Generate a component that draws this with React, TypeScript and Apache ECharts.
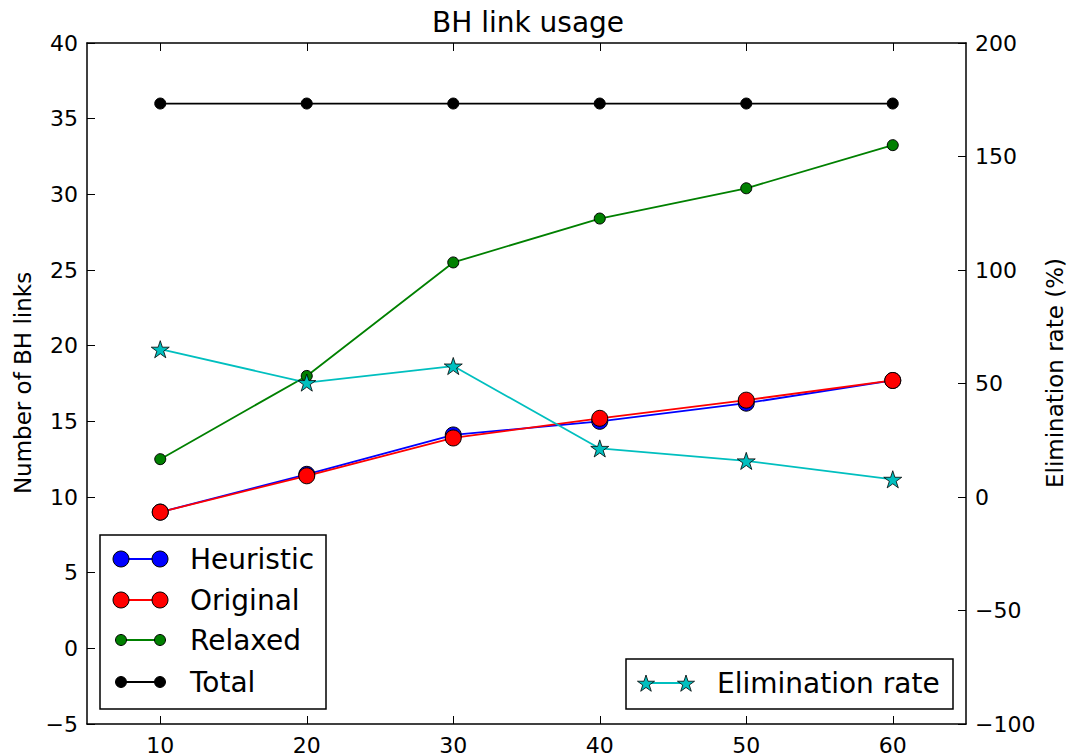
import React, { useEffect, useRef } from "react";
import * as echarts from "echarts";

const xValues = [10, 20, 30, 40, 50, 60];
const heuristic = [9.0, 11.5, 14.1, 15.0, 16.2, 17.7];
const original = [9.0, 11.4, 13.9, 15.2, 16.4, 17.7];
const relaxed = [12.5, 18.0, 25.5, 28.4, 30.4, 33.25];
const total = [36, 36, 36, 36, 36, 36];
const elimination = [65.1, 50.4, 57.7, 21.4, 15.9, 7.8];

const FONT = "DejaVu Sans";

function starPoints(cx: number, cy: number, r: number): number[][] {
  const pts: number[][] = [];
  const inner = r * 0.381966;
  for (let i = 0; i < 10; i++) {
    const a = -Math.PI / 2 + (i * Math.PI) / 5;
    const rr = i % 2 === 0 ? r : inner;
    pts.push([cx + rr * Math.cos(a), cy + rr * Math.sin(a)]);
  }
  return pts;
}

function starPath(): string {
  const pts = starPoints(50, 50, 50);
  return (
    "path://" +
    pts.map((p, i) => (i === 0 ? "M" : "L") + p[0].toFixed(2) + "," + p[1].toFixed(2)).join(" ") +
    " Z"
  );
}

const fmt = (v: number) => (v < 0 ? "\u2212" + Math.abs(v) : String(v));

export default function App() {
  const ref = useRef<HTMLDivElement>(null);

  useEffect(() => {
    if (!ref.current) return;
    const chart = echarts.init(ref.current, null, { renderer: "svg" });
    const pair = (arr: number[]) => xValues.map((x, i) => [x, arr[i]]);
    const axisLine = { show: true, onZero: false, lineStyle: { color: "#000", width: 1.5 } };
    const tick = { show: true, inside: true, length: 8, lineStyle: { color: "#000", width: 1 } };
    const label = { color: "#000", fontSize: 22, fontFamily: FONT };

    const legendRows = [
      { name: "Heuristic", color: "#0000ff", r: 8, y: 559 },
      { name: "Original", color: "#ff0000", r: 8, y: 600 },
      { name: "Relaxed", color: "#008000", r: 5.5, y: 640 },
      { name: "Total", color: "#000000", r: 5.5, y: 682 },
    ];
    const legendEls: any[] = [
      {
        type: "rect",
        shape: { x: 100, y: 535, width: 226, height: 174 },
        style: { fill: "#fff", stroke: "#000", lineWidth: 1.5 },
        z: 100,
      },
    ];
    legendRows.forEach((row) => {
      legendEls.push({
        type: "line",
        shape: { x1: 121, y1: row.y, x2: 160, y2: row.y },
        style: { stroke: row.color, lineWidth: 1.8 },
        z: 101,
      });
      [121, 160].forEach((cx) =>
        legendEls.push({
          type: "circle",
          shape: { cx, cy: row.y, r: row.r },
          style: { fill: row.color, stroke: "#000", lineWidth: 1 },
          z: 102,
        })
      );
      legendEls.push({
        type: "text",
        x: 190,
        y: row.y,
        style: {
          text: row.name,
          fontSize: 28,
          fontFamily: FONT,
          fill: "#000",
          textVerticalAlign: "middle",
          textAlign: "left",
        },
        z: 102,
      });
    });
    legendEls.push(
      {
        type: "rect",
        shape: { x: 626, y: 659, width: 327, height: 50 },
        style: { fill: "#fff", stroke: "#000", lineWidth: 1.5 },
        z: 100,
      },
      {
        type: "line",
        shape: { x1: 646, y1: 683, x2: 686, y2: 683 },
        style: { stroke: "#00bfbf", lineWidth: 1.8 },
        z: 101,
      },
      ...[646, 686].map((cx) => ({
        type: "polygon",
        shape: { points: starPoints(cx, 684, 9) },
        style: { fill: "#00bfbf", stroke: "#000", lineWidth: 0.8 },
        z: 102,
      })),
      {
        type: "text",
        x: 717,
        y: 683,
        style: {
          text: "Elimination rate",
          fontSize: 28,
          fontFamily: FONT,
          fill: "#000",
          textVerticalAlign: "middle",
          textAlign: "left",
        },
        z: 102,
      }
    );

    chart.setOption({
      animation: false,
      backgroundColor: "#fff",
      grid: { left: 87, right: 105, top: 43, bottom: 32, containLabel: false },
      xAxis: [
        {
          type: "value",
          min: 5,
          max: 65,
          axisLine,
          axisTick: { ...tick, customValues: xValues },
          axisLabel: { ...label, margin: 10, customValues: xValues },
          splitLine: { show: false },
        },
        {
          type: "value",
          position: "top",
          min: 5,
          max: 65,
          axisLine,
          axisTick: { ...tick, customValues: xValues },
          axisLabel: { show: false },
          splitLine: { show: false },
        },
      ],
      yAxis: [
        {
          type: "value",
          position: "left",
          min: -5,
          max: 40,
          interval: 5,
          axisLine,
          axisTick: tick,
          axisLabel: { ...label, margin: 9, formatter: fmt },
          splitLine: { show: false },
        },
        {
          type: "value",
          position: "right",
          min: -100,
          max: 200,
          interval: 50,
          axisLine,
          axisTick: tick,
          axisLabel: { ...label, margin: 9, formatter: fmt },
          splitLine: { show: false },
        },
      ],
      graphic: [
        {
          type: "text",
          x: 528,
          y: 22,
          style: {
            text: "BH link usage",
            fontSize: 28,
            fontFamily: FONT,
            fill: "#000",
            textAlign: "center",
            textVerticalAlign: "middle",
          },
        },
        {
          type: "text",
          x: 23,
          y: 383,
          rotation: Math.PI / 2,
          style: {
            text: "Number of BH links",
            fontSize: 23,
            fontFamily: FONT,
            fill: "#000",
            textAlign: "center",
            textVerticalAlign: "middle",
          },
        },
        {
          type: "text",
          x: 1055,
          y: 373,
          rotation: Math.PI / 2,
          style: {
            text: "Elimination rate (%)",
            fontSize: 23,
            fontFamily: FONT,
            fill: "#000",
            textAlign: "center",
            textVerticalAlign: "middle",
          },
        },
        ...legendEls,
      ],
      series: [
        {
          name: "Heuristic",
          type: "line",
          data: pair(heuristic),
          symbol: "circle",
          symbolSize: 16,
          lineStyle: { color: "#0000ff", width: 1.8 },
          itemStyle: { color: "#0000ff", borderColor: "#000", borderWidth: 1 },
        },
        {
          name: "Original",
          type: "line",
          data: pair(original),
          symbol: "circle",
          symbolSize: 16,
          lineStyle: { color: "#ff0000", width: 1.8 },
          itemStyle: { color: "#ff0000", borderColor: "#000", borderWidth: 1 },
        },
        {
          name: "Relaxed",
          type: "line",
          data: pair(relaxed),
          symbol: "circle",
          symbolSize: 11,
          lineStyle: { color: "#008000", width: 1.8 },
          itemStyle: { color: "#008000", borderColor: "#000", borderWidth: 1 },
        },
        {
          name: "Total",
          type: "line",
          data: pair(total),
          symbol: "circle",
          symbolSize: 11,
          lineStyle: { color: "#000", width: 1.8 },
          itemStyle: { color: "#000", borderColor: "#000", borderWidth: 1 },
        },
        {
          name: "Elimination rate",
          type: "line",
          yAxisIndex: 1,
          data: pair(elimination),
          symbol: starPath(),
          symbolKeepAspect: true,
          symbolSize: 18,
          lineStyle: { color: "#00bfbf", width: 1.8 },
          itemStyle: { color: "#00bfbf", borderColor: "#000", borderWidth: 0.8 },
        },
      ],
    });
    return () => chart.dispose();
  }, []);

  return (
    <div
      ref={ref}
      style={{ position: "fixed", left: 0, top: 0, width: 1071, height: 756, background: "#fff" }}
    />
  );
}

const _unused = React;
